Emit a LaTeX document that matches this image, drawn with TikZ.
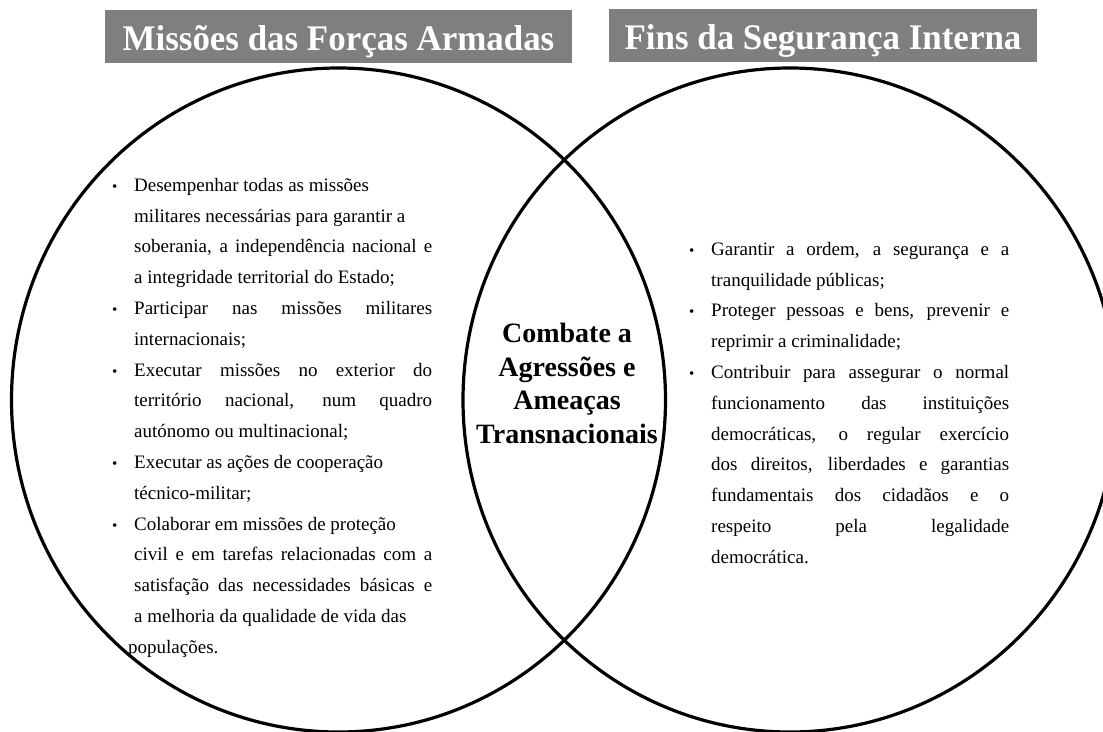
\documentclass[tikz,border=0pt]{standalone}
\usepackage{fontspec}
\setmainfont{Liberation Serif}
\usepackage{graphicx}
\usepackage{xcolor}
\usepackage{tikz}

\definecolor{headgray}{HTML}{7F7F7F}
\tolerance=10000
\hyphenpenalty=10000
\parindent=0pt
\newcommand\bulitem{\hangindent=22pt\hangafter=1\noindent\makebox[22pt][l]{\fontsize{15}{15}\selectfont\textbullet}}

\begin{document}
\begin{tikzpicture}[x=1pt, y=-1pt,
    ring/.style={line width=3.2pt},
    header/.style={fill=headgray, text=white, minimum height=53pt, inner sep=0pt, text height=30pt, text depth=3pt, font=\bfseries\fontsize{36}{36}\selectfont},
    bullets/.style={anchor=north west, text width=320pt, align=justify, inner sep=0pt, font=\fontsize{19}{30.8}\selectfont}]
  \useasboundingbox (0,0) rectangle (1103,731);
  \draw[ring] (338.5,400) ellipse [x radius=327pt, y radius=332pt];
  \draw[ring] (790,400) ellipse [x radius=327pt, y radius=332pt];
  \node[header, minimum width=467pt] (missoes) at (338.5,36.5) {\scalebox{0.97}[1]{Missões das Forças Armadas}};
  \node[header, minimum width=428pt] (fins) at (823,35.5) {\scalebox{0.97}[1]{Fins da Segurança Interna}};
  \node[bullets] (listaFA) at (112,178) {%
    \bulitem Desempenhar todas as missões\newline militares necessárias para garantir a\newline soberania, a independência nacional e\linebreak a integridade territorial do Estado;\par
    \bulitem Participar nas missões militares\linebreak internacionais;\par
    \bulitem Executar missões no exterior do\linebreak território nacional, num quadro\linebreak autónomo ou multinacional;\par
    \bulitem Executar as ações de cooperação\newline técnico-militar;\par
    \bulitem Colaborar em missões de proteção\newline civil e em tarefas relacionadas com a\linebreak satisfação das necessidades básicas e\linebreak a melhoria da qualidade de vida das\newline \hspace*{-6pt}populações.\par};
  \node[bullets] (listaSI) at (689,242) {%
    \bulitem Garantir a ordem, a segurança e a\linebreak tranquilidade públicas;\par
    \bulitem Proteger pessoas e bens, prevenir e\linebreak reprimir a criminalidade;\par
    \bulitem Contribuir para assegurar o normal\linebreak funcionamento das instituições\linebreak democráticas, o regular exercício\linebreak dos direitos, liberdades e garantias\linebreak fundamentais dos cidadãos e o\linebreak respeito pela legalidade\linebreak democrática.\par};
  \node[anchor=base, align=center, inner sep=0pt, font=\bfseries\fontsize{28}{33.5}\selectfont] (combate) at (567,443) {Combate a\\Agressões e\\Ameaças\\Transnacionais};
\end{tikzpicture}
\end{document}
